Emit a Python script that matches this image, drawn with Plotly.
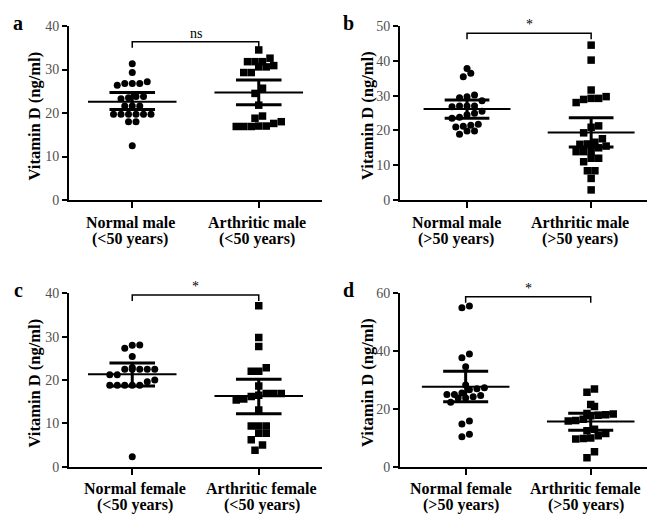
import plotly.graph_objects as go

# ---------------- data ----------------
panel_letters = ["a", "b", "c", "d"]
group_names = [["Normal male", "Arthritic male"],
               ["Normal male", "Arthritic male"],
               ["Normal female", "Arthritic female"],
               ["Normal female", "Arthritic female"]]
age_labels = [["(&lt;50 years)", "(&lt;50 years)"],
              ["(&gt;50 years)", "(&gt;50 years)"],
              ["(&lt;50 years)", "(&lt;50 years)"],
              ["(&gt;50 years)", "(&gt;50 years)"]]
y_title = "Vitamin D (ng/ml)"
y_max = [40, 50, 40, 60]
y_dtick = [10, 10, 10, 20]
significance = ["ns", "*", "*", "*"]

a_normal = [31.3, 29.3, 27.2, 26.8, 26.8, 26.8, 26.4, 23.8, 23.8, 23.5, 23.3,
            21.6, 21.6, 21.6, 19.7, 19.7, 19.7, 19.7, 19.7, 19.7, 18.0, 18.0, 12.5]
a_arthritic = [34.5, 32.6, 31.8, 31.8, 31.8, 30.9, 30.6, 30.6, 29.3, 29.3, 25.7,
               24.5, 21.8, 19.3, 18.8, 18.0, 17.6, 17.0, 17.0, 16.9, 16.9, 16.9]
b_normal = [37.8, 36.4, 35.4, 30.2, 29.7, 29.4, 28.5, 27.0, 27.0, 26.8, 27.0, 25.5,
            24.9, 24.5, 23.8, 23.5, 21.8, 21.5, 21.2, 21.0, 19.8, 19.8, 18.9]
b_arthritic = [44.5, 40.2, 31.6, 29.7, 29.2, 29.2, 28.9, 28.0, 21.3, 20.9, 19.3,
               17.6, 16.6, 16.1, 16.0, 15.5, 15.0, 13.9, 13.9, 13.9, 12.0, 12.0,
               11.0, 8.4, 8.4, 6.2, 2.9]
c_normal = [28.1, 28.0, 27.3, 25.4, 22.9, 22.5, 22.5, 22.5, 22.5, 22.5, 21.2, 21.2,
            20.0, 19.6, 18.8, 18.8, 18.8, 18.8, 18.8, 2.3]
c_arthritic = [37.1, 29.8, 27.7, 22.8, 22.0, 22.0, 18.6, 16.9, 16.9, 16.9, 16.5,
               16.2, 15.6, 15.4, 13.1, 9.4, 9.4, 9.4, 7.7, 7.7, 6.2, 5.0, 3.8]
d_normal = [55.6, 55.0, 39.0, 37.7, 34.6, 28.3, 27.3, 27.0, 26.6, 25.5, 25.0, 25.0,
            24.6, 24.2, 23.8, 23.8, 22.3, 15.8, 14.8, 11.2, 10.4]
d_arthritic = [26.9, 25.8, 21.5, 20.8, 18.4, 18.2, 18.0, 17.8, 17.6, 16.4, 16.0,
               15.8, 13.0, 12.4, 11.5, 10.7, 9.8, 9.9, 9.6, 5.2, 3.1]

normal_values = [a_normal, b_normal, c_normal, d_normal]
arthritic_values = [a_arthritic, b_arthritic, c_arthritic, d_arthritic]

# mean and error bar limits (normal, arthritic)
means = [[22.6, 24.7], [26.15, 19.4], [21.3, 16.3], [27.7, 15.6]]
err_low = [[20.8, 21.9], [23.5, 15.2], [18.6, 12.2], [22.5, 12.6]]
err_high = [[24.7, 27.6], [28.7, 23.6], [23.9, 20.2], [33.0, 18.5]]
bracket_level = [36.4, 47.9, 39.6, 58.8]

# ---------------- layout geometry (pixels) ----------------
W, H = 648, 517
panel_px = [  # x0, x1, ytop, ybottom
    (69, 322, 26, 200),
    (400, 647, 26, 200),
    (69, 322, 293.3, 466.7),
    (400, 647, 293.3, 466.7),
]
x_ranges = [[-0.5, 1.5], [-0.54, 1.45], [-0.5, 1.5], [-0.525, 1.45]]
label_shift = [-2, -11, 3, -5]
title_offset = [35.5, 33, 35.5, 33]
SERIF = "Liberation Serif"


def swarm_offsets(values, row_units, step):
    """Deterministic beeswarm: group values into rows and spread centred."""
    order = sorted(range(len(values)), key=lambda i: values[i])
    offsets = [0.0] * len(values)
    groups, cur = [], []
    for i in order:
        if cur and values[i] - values[cur[0]] >= row_units:
            groups.append(cur)
            cur = []
        cur.append(i)
    if cur:
        groups.append(cur)
    for g in groups:
        n = len(g)
        for k, i in enumerate(g):
            offsets[i] = (k - (n - 1) / 2) * step
    return offsets


fig = go.Figure()
annotations = []

for p in range(4):
    sfx = "" if p == 0 else str(p + 1)
    xa, ya = "x" + sfx, "y" + sfx
    x0, x1, yt, yb = panel_px[p]
    px_per_unit_y = (yb - yt) / y_max[p]
    px_per_unit_x = (x1 - x0) / (x_ranges[p][1] - x_ranges[p][0])
    row_units = 7.0 / px_per_unit_y
    step = 7.5 / px_per_unit_x

    for gi, (vals, sym) in enumerate([(normal_values[p], "circle"),
                                       (arthritic_values[p], "square")]):
        offs = swarm_offsets(vals, row_units, step)
        fig.add_trace(go.Scatter(
            x=[gi + o for o in offs], y=vals, mode="markers",
            marker=dict(symbol=sym, size=7 if sym == "circle" else 7.5,
                        color="black", line=dict(width=0)),
            xaxis=xa, yaxis=ya, showlegend=False, hoverinfo="y"))

        m, lo, hi = means[p][gi], err_low[p][gi], err_high[p][gi]
        # mean line
        fig.add_trace(go.Scatter(x=[gi - 0.35, gi + 0.35], y=[m, m], mode="lines",
                                 line=dict(color="black", width=2),
                                 xaxis=xa, yaxis=ya, showlegend=False, hoverinfo="skip"))
        # error bar
        fig.add_trace(go.Scatter(
            x=[gi, gi, None, gi - 0.18, gi + 0.18, None, gi - 0.18, gi + 0.18],
            y=[lo, hi, None, lo, lo, None, hi, hi], mode="lines",
            line=dict(color="black", width=3),
            xaxis=xa, yaxis=ya, showlegend=False, hoverinfo="skip"))

    # significance bracket
    h = bracket_level[p]
    d = 6.0 / px_per_unit_y
    fig.add_trace(go.Scatter(x=[0, 0, 1, 1], y=[h - d, h, h, h - d], mode="lines",
                             line=dict(color="black", width=1.5),
                             xaxis=xa, yaxis=ya, showlegend=False, hoverinfo="skip"))
    annotations.append(dict(x=0.5, y=h, xref=xa, yref=ya, text=significance[p],
                            showarrow=False, yanchor="bottom", yshift=-1,
                            font=dict(family=SERIF, size=14, color="black")))

    # category labels (two lines)
    for gi in range(2):
        annotations.append(dict(x=gi, y=0, xref=xa, yref=ya, text="<b>%s</b>" % group_names[p][gi],
                                showarrow=False, yanchor="middle", yshift=-22,
                                xshift=label_shift[p],
                                font=dict(family=SERIF, size=16, color="black")))
        annotations.append(dict(x=gi, y=0, xref=xa, yref=ya, text="<b>%s</b>" % age_labels[p][gi],
                                showarrow=False, yanchor="middle", yshift=-38.5,
                                xshift=label_shift[p],
                                font=dict(family=SERIF, size=16, color="black")))

    # y-axis title
    annotations.append(dict(x=0, y=0.5, xref=xa + " domain", yref=ya + " domain",
                            text="<b>%s</b>" % y_title, textangle=-90, showarrow=False,
                            xanchor="center", yanchor="middle", xshift=-title_offset[p],
                            yshift=-3,
                            font=dict(family=SERIF, size=16.5, color="black")))

    # panel letter
    annotations.append(dict(x=(x0 - 51) / W, y=1 - (yt - 3) / H, xref="paper", yref="paper",
                            text="<b>%s</b>" % panel_letters[p], showarrow=False,
                            xanchor="center", yanchor="middle",
                            font=dict(family=SERIF, size=20, color="black")))

    fig.layout["xaxis" + sfx] = dict(
        domain=[x0 / W, x1 / W], range=x_ranges[p], anchor=ya, automargin=False,
        showline=True, linecolor="black", linewidth=2, showgrid=False, zeroline=False,
        tickmode="array", tickvals=[0, 1], ticktext=["", ""],
        ticks="outside", ticklen=6, tickwidth=2, tickcolor="black", fixedrange=True)
    fig.layout["yaxis" + sfx] = dict(
        domain=[1 - yb / H, 1 - yt / H], range=[0, y_max[p]], anchor=xa, automargin=False,
        showline=True, linecolor="black", linewidth=2, showgrid=False, zeroline=False,
        dtick=y_dtick[p], tick0=0, ticks="outside", ticklen=5, tickwidth=1.5,
        tickcolor="black", tickfont=dict(family=SERIF, size=14, color="#505050"),
        fixedrange=True)

fig.update_layout(width=W, height=H, autosize=False,
                  margin=dict(l=0, r=0, t=0, b=0, pad=0, autoexpand=False),
                  paper_bgcolor="white", plot_bgcolor="white",
                  annotations=annotations, showlegend=False)

fig.write_html("out.html", config={"displayModeBar": False, "responsive": False},
               post_script="document.body.style.margin='0';document.body.style.padding='0';"
                           "document.body.style.overflow='hidden';")
